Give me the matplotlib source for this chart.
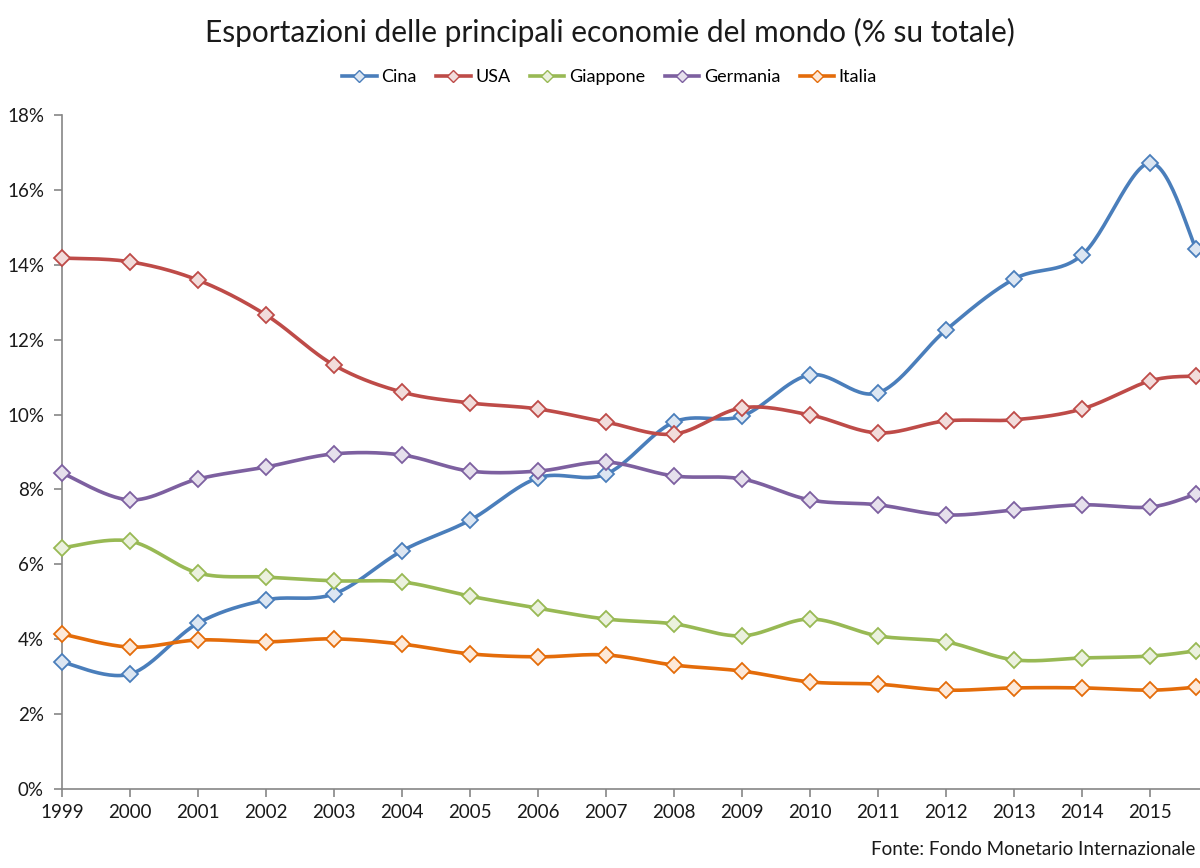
import numpy as np
import matplotlib
matplotlib.use("Agg")
import matplotlib.pyplot as plt
from matplotlib.ticker import FuncFormatter

plt.rcParams["font.family"] = ["Lato", "DejaVu Sans"]

# ── Dati (% sul totale delle esportazioni mondiali) ───────────────────────────
anni = [1999, 2000, 2001, 2002, 2003, 2004, 2005, 2006, 2007, 2008,
        2009, 2010, 2011, 2012, 2013, 2014, 2015, 2015.68]
etichette_anni = [str(a) for a in range(1999, 2016)]

cina = [3.39, 3.07, 4.43, 5.05, 5.21, 6.36, 7.18, 8.31, 8.41, 9.80,
        9.96, 11.06, 10.58, 12.26, 13.62, 14.26, 16.72, 14.42]
usa = [14.18, 14.08, 13.59, 12.66, 11.32, 10.60, 10.31, 10.15, 9.80, 9.48,
       10.18, 9.99, 9.51, 9.83, 9.86, 10.15, 10.90, 11.03]
giappone = [6.44, 6.62, 5.77, 5.66, 5.56, 5.53, 5.15, 4.83, 4.54, 4.41,
            4.09, 4.54, 4.09, 3.93, 3.45, 3.50, 3.55, 3.69]
germania = [8.44, 7.72, 8.28, 8.60, 8.95, 8.92, 8.49, 8.49, 8.73, 8.36,
            8.28, 7.72, 7.59, 7.32, 7.45, 7.59, 7.53, 7.88]
italia = [4.14, 3.79, 3.98, 3.93, 4.01, 3.87, 3.61, 3.53, 3.58, 3.31,
          3.15, 2.86, 2.80, 2.64, 2.70, 2.70, 2.64, 2.72]

serie = [
    ("Cina",     cina,     "#4A7EBB", "#DCE6F2"),
    ("USA",      usa,      "#BE4B48", "#F2DCDB"),
    ("Giappone", giappone, "#98B954", "#EBF1DE"),
    ("Germania", germania, "#7D60A0", "#E6E0EC"),
    ("Italia",   italia,   "#E46C0A", "#FDE9D9"),
]


def smooth(x, y, n=30):
    """Curva levigata tipo Excel (Bezier cubica, tangenti Catmull-Rom)."""
    x = np.asarray(x, float)
    y = np.asarray(y, float)
    px = np.concatenate([[x[0]], x, [x[-1]]])
    py = np.concatenate([[y[0]], y, [y[-1]]])
    t = np.linspace(0, 1, n)[:, None]
    xs, ys = [], []
    for i in range(1, len(px) - 2):
        p0 = np.array([px[i], py[i]])
        p3 = np.array([px[i + 1], py[i + 1]])
        c1 = p0 + (np.array([px[i + 1], py[i + 1]]) - np.array([px[i - 1], py[i - 1]])) / 6
        c2 = p3 - (np.array([px[i + 2], py[i + 2]]) - np.array([px[i], py[i]])) / 6
        b = ((1 - t) ** 3) * p0 + 3 * ((1 - t) ** 2) * t * c1 \
            + 3 * (1 - t) * t ** 2 * c2 + t ** 3 * p3
        xs.append(b[:, 0])
        ys.append(b[:, 1])
    return np.concatenate(xs), np.concatenate(ys)


fig = plt.figure(figsize=(12, 8.68), dpi=100)
ax = fig.add_axes([0.0517, 0.091, 0.9633, 0.7765])

handles = []
for nome, vals, col, fill in serie:
    sx, sy = smooth(anni, vals)
    ax.plot(sx, sy, color=col, lw=2.6, solid_capstyle="round", zorder=2)
    ax.plot(anni, vals, ls="none", marker="D", ms=8, mfc=fill, mec=col,
            mew=1.3, zorder=3, clip_on=False)
    h, = ax.plot([], [], color=col, lw=2.6, marker="D", ms=6, mfc=fill,
                 mec=col, mew=1.0, label=nome)
    handles.append(h)

ax.set_xlim(1999, 2016)
ax.set_ylim(0, 18)
ax.set_xticks(range(1999, 2016))
ax.set_xticklabels(etichette_anni)
ax.set_yticks(range(0, 19, 2))
ax.yaxis.set_major_formatter(FuncFormatter(lambda v, p: f"{v:.0f}%"))

for s in ("top", "right"):
    ax.spines[s].set_visible(False)
for s in ("left", "bottom"):
    ax.spines[s].set_color("#868686")
    ax.spines[s].set_linewidth(1.2)
ax.tick_params(axis="both", colors="#868686", length=6, width=1.2,
               labelcolor="#1a1a1a", labelsize=13.5)
ax.tick_params(axis="x", pad=5)
ax.tick_params(axis="y", pad=7)

fig.text(0.508, 0.963, "Esportazioni delle principali economie del mondo (% su totale)",
         ha="center", va="center", fontsize=21.5, color="#1a1a1a")

fig.legend(handles=handles, loc="center", bbox_to_anchor=(0.508, 0.911), ncol=5,
           frameon=False, fontsize=13, handlelength=1.9, handletextpad=0.25,
           columnspacing=1.1)

fig.text(0.996, 0.011, "Fonte: Fondo Monetario Internazionale",
         ha="right", va="bottom", fontsize=13.5, color="#1a1a1a")

fig.savefig("out.png", dpi=100)
